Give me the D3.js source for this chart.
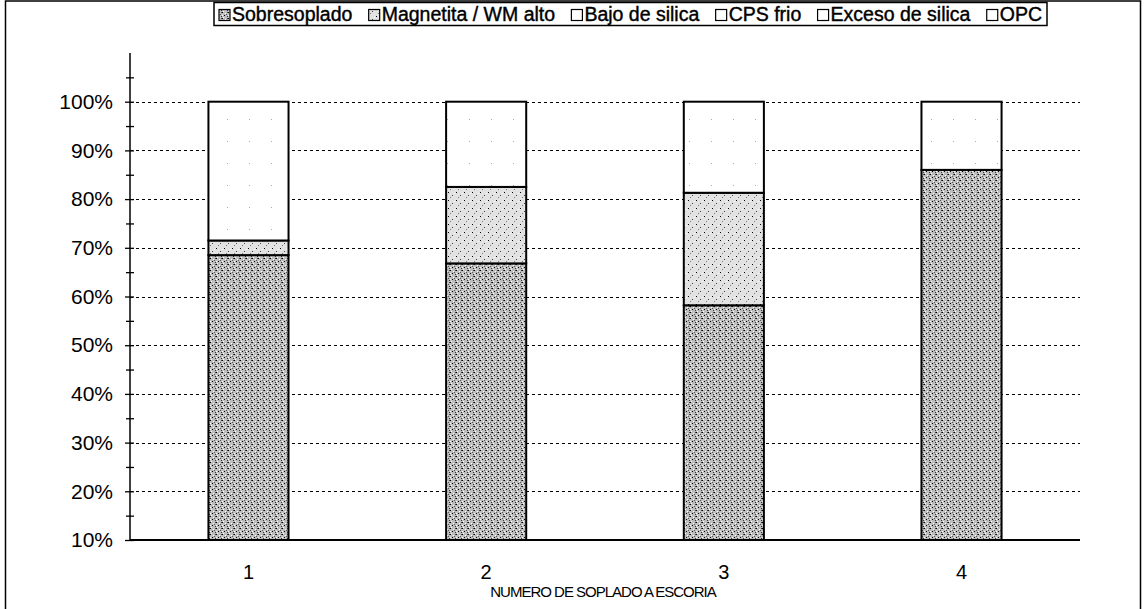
<!DOCTYPE html>
<head>
    <meta charset="utf-8">
    <style>
        * {
            padding: 0;
            margin: 0;
        }
        body {
            background: #fff;
        }
    </style>
    <script src="https://cdn.jsdelivr.net/npm/d3@7"></script>
</head>

<body>
    <script>

        /////////////////////////////////////////////////////
        // DATA
        /////////////////////////////////////////////////////

        const categories = ["1", "2", "3", "4"]
        const seriesNames = ["Sobresoplado", "Magnetita / WM alto", "Bajo de silica", "CPS frio", "Exceso de silica", "OPC"]

        //percentage of each cause per blow number
        const sobresoplado = [68.5, 66.8, 58.2, 86.0]
        const magnetita = [3.0, 15.7, 23.1, 0]
        const bajoSilica = [0, 0, 0, 0]
        const cpsFrio = [0, 0, 0, 0]
        const excesoSilica = [28.5, 17.5, 18.7, 14.0]
        const opc = [0, 0, 0, 0]

        const yTicks = [10, 20, 30, 40, 50, 60, 70, 80, 90, 100]
        const xTitle = "NUMERO DE SOPLADO A ESCORIA"

        const seriesValues = [sobresoplado, magnetita, bajoSilica, cpsFrio, excesoSilica, opc]
        const rows = categories.map((c, i) => {
            const r = { cat: c }
            seriesNames.forEach((s, k) => r[s] = seriesValues[k][i])
            return r
        })

        /////////////////////////////////////////////////////
        // SETUP SVG
        /////////////////////////////////////////////////////

        const width = 1146
        const height = 609
        const margin = { left: 130, right: 66, top: 53, bottom: 69 }

        const svg = d3.select("body").append("svg")
            .attr("width", width)
            .attr("height", height)
            .style("font-family", "Arial, 'Liberation Sans', sans-serif")

        //speckle fills (scanned look)
        const defs = svg.append("defs")
        function speckle(id, base, dots, size) {
            const p = defs.append("pattern")
                .attr("id", id)
                .attr("patternUnits", "userSpaceOnUse")
                .attr("width", size).attr("height", size)
            p.append("rect").attr("width", size).attr("height", size).attr("fill", base)
            dots.forEach(d => {
                p.append("rect").attr("x", d[0]).attr("y", d[1])
                    .attr("width", 1).attr("height", 1).attr("fill", d[2])
            })
        }
        speckle("pSobre", "#bdbdbd",
            [[0, 0, "#000"], [3, 1, "#fff"], [5, 4, "#333"], [1, 5, "#fff"], [4, 2, "#555"], [2, 3, "#000"], [0, 3, "#fff"], [5, 0, "#444"]], 6)
        speckle("pMagn", "#e2e2e2",
            [[0, 0, "#000"], [4, 3, "#444"], [2, 5, "#777"], [6, 1, "#fff"]], 8)
        speckle("pLight", "#ffffff", [[7, 9, "#aaa"]], 22)

        const fills = {
            "Sobresoplado": "url(#pSobre)",
            "Magnetita / WM alto": "url(#pMagn)",
            "Bajo de silica": "#fff",
            "CPS frio": "url(#pLight)",
            "Exceso de silica": "url(#pLight)",
            "OPC": "url(#pLight)"
        }

        //outer chart border
        svg.append("rect")
            .attr("x", 5.5).attr("y", 1)
            .attr("width", 1135).attr("height", height + 10)
            .attr("fill", "none").attr("stroke", "#000").attr("stroke-width", 1.5)

        /////////////////////////////////////////////////////
        // SCALES
        /////////////////////////////////////////////////////

        const x = d3.scaleBand()
            .domain(categories)
            .range([margin.left, width - margin.right])
            .paddingInner(0.663)
            .paddingOuter(0.33)

        const y = d3.scaleLinear()
            .domain([10, 110])
            .range([height - margin.bottom, margin.top])

        /////////////////////////////////////////////////////
        // GRID + AXES
        /////////////////////////////////////////////////////

        svg.append("g")
            .selectAll("line")
            .data(yTicks.filter(t => t > 10))
            .join("line")
            .attr("x1", margin.left).attr("x2", width - margin.right)
            .attr("y1", d => Math.round(y(d)) + 0.5).attr("y2", d => Math.round(y(d)) + 0.5)
            .attr("stroke", "#000").attr("stroke-width", 1)
            .attr("stroke-dasharray", "3,3")

        //minor ticks every 5%
        svg.append("g")
            .attr("transform", `translate(${margin.left},0)`)
            .call(d3.axisLeft(y).tickValues(d3.range(15, 110, 10)).tickSize(4).tickFormat(""))
            .call(g => g.select(".domain").remove())
            .call(g => g.selectAll(".tick line").attr("x2", 4).attr("x1", -4).attr("stroke-width", 1.3))

        const yAxis = svg.append("g")
            .attr("transform", `translate(${margin.left},0)`)
            .call(d3.axisLeft(y).tickValues(yTicks).tickSize(5).tickPadding(12).tickFormat(d => d + "%"))
        yAxis.select(".domain").attr("stroke-width", 1.5).attr("d", `M0,${y(110)}V${y(10)}`)
        yAxis.selectAll(".tick line").attr("x2", 4).attr("x1", -5).attr("stroke-width", 1.3)
        yAxis.selectAll(".tick text")
            .attr("font-size", 21).attr("fill", "#000")
            .style("font-family", "Arial, 'Liberation Sans', sans-serif")

        /////////////////////////////////////////////////////
        // STACKED BARS
        /////////////////////////////////////////////////////

        const stack = d3.stack().keys(seriesNames)(rows)

        svg.append("g")
            .selectAll("g")
            .data(stack)
            .join("g")
            .attr("fill", d => fills[d.key])
            .selectAll("rect")
            .data(d => d.filter(p => p[1] - p[0] > 0))
            .join("rect")
            .attr("x", d => x(d.data.cat))
            .attr("width", x.bandwidth())
            .attr("y", d => y(d[1]))
            .attr("height", d => y(Math.max(d[0], 10)) - y(d[1]))
            .attr("stroke", "#000")
            .attr("stroke-width", 2)

        //x axis baseline
        svg.append("line")
            .attr("x1", margin.left).attr("x2", width - margin.right)
            .attr("y1", y(10)).attr("y2", y(10))
            .attr("stroke", "#000").attr("stroke-width", 2)

        svg.append("g")
            .selectAll("text")
            .data(categories)
            .join("text")
            .attr("x", d => x(d) + x.bandwidth() / 2)
            .attr("y", 579)
            .attr("text-anchor", "middle")
            .attr("font-size", 20)
            .text(d => d)

        svg.append("text")
            .attr("x", 603).attr("y", 597)
            .attr("text-anchor", "middle")
            .attr("font-size", 15)
            .attr("letter-spacing", -1)
            .text(xTitle)

        /////////////////////////////////////////////////////
        // LEGEND
        /////////////////////////////////////////////////////

        const legLeft = 214, legRight = 1047
        const legend = svg.append("g")
        const legBox = legend.append("rect")
            .attr("x", legLeft).attr("y", 2.5).attr("width", legRight - legLeft).attr("height", 23)
            .attr("fill", "#fff").attr("stroke", "#000").attr("stroke-width", 1.5)

        //make the labels first, then spread the free space evenly between entries
        const items = seriesNames.map(s => {
            const sw = legend.append("rect")
                .attr("y", 9.5).attr("width", 11).attr("height", 11)
                .attr("fill", fills[s]).attr("stroke", "#000").attr("stroke-width", 1.2)
            const t = legend.append("text")
                .attr("y", 20.5)
                .attr("font-size", 19.5)
                .attr("fill", "#000")
                .attr("stroke", "#000").attr("stroke-width", 0.4)
                .text(s)
            return { sw, t, w: 13 + t.node().getComputedTextLength() }
        })
        const used = d3.sum(items, d => d.w)
        const gap = (legRight - legLeft - 10 - used) / (items.length - 1)
        let lx = legLeft + 5
        items.forEach(d => {
            d.sw.attr("x", lx)
            d.t.attr("x", lx + 13)
            lx += d.w + gap
        })

    </script>
</body>
